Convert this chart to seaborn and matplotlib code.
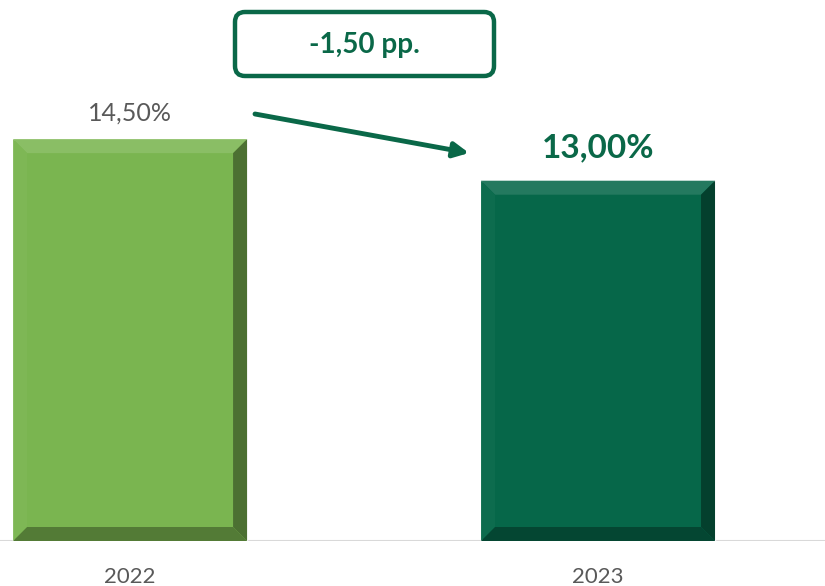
import numpy as np
import pandas as pd
import matplotlib
matplotlib.use("Agg")
from matplotlib import pyplot as plt
from matplotlib.patches import Polygon, FancyBboxPatch
from matplotlib.transforms import IdentityTransform
import seaborn as sns

# %% Data
years = ["2022", "2023"]
rates = [14.50, 13.00]
value_labels = ["14,50%", "13,00%"]
change_label = "-1,50 pp."

bar_colors = ["#7ab550", "#066749"]
dark_green = "#0a6848"
grey_text = "#595959"


def shade(color, factor):
    # factor > 1 lightens, < 1 darkens
    rgb = np.array(matplotlib.colors.to_rgb(color))
    if factor >= 1:
        rgb = rgb + (1 - rgb) * (factor - 1)
    else:
        rgb = rgb * factor
    return np.clip(rgb, 0, 1)


def add_bevel(ax, patch, color, bw_px=14):
    # fake the excel "bevel" look with four trapezoids
    x0, y0 = patch.get_x(), patch.get_y()
    x1, y1 = x0 + patch.get_width(), y0 + patch.get_height()
    inv = ax.transData.inverted()
    p0 = inv.transform(ax.transData.transform((x0, y0)) + [bw_px, bw_px])
    dx, dy = p0[0] - x0, p0[1] - y0
    sides = {
        "top": ([(x0, y1), (x1, y1), (x1 - dx, y1 - dy), (x0 + dx, y1 - dy)], 1.12),
        "left": ([(x0, y0), (x0, y1), (x0 + dx, y1 - dy), (x0 + dx, y0 + dy)], 1.03),
        "right": ([(x1, y0), (x1, y1), (x1 - dx, y1 - dy), (x1 - dx, y0 + dy)], 0.62),
        "bottom": ([(x0, y0), (x1, y0), (x1 - dx, y0 + dy), (x0 + dx, y0 + dy)], 0.68),
    }
    for name, (pts, f) in sides.items():
        ax.add_patch(Polygon(pts, closed=True, facecolor=shade(color, f),
                             edgecolor="none", zorder=3))


# %% Plot
def main():
    sns.set_style("white")
    plt.rcParams["font.family"] = ["Lato", "DejaVu Sans"]

    df = pd.DataFrame({"year": years, "rate": rates})

    fig = plt.figure(figsize=(8.25, 5.86), dpi=100)
    ax = fig.add_axes([0, 45 / 586, 1, 541 / 586])

    sns.barplot(data=df, x="year", y="rate", hue="year", palette=bar_colors,
                width=0.5, legend=False, ax=ax, saturation=1, zorder=2)

    ax.set_xlim(-0.278, 1.485)
    ax.set_ylim(0, 19.52)

    for patch, col in zip(ax.patches[:len(years)], bar_colors):
        add_bevel(ax, patch, col)

    sns.despine(ax=ax, left=True, bottom=True)
    ax.axhline(0, color="#d9d9d9", lw=1.5, zorder=1)
    ax.set_yticks([])
    ax.set_xlabel("")
    ax.set_ylabel("")
    ax.tick_params(axis="x", length=0, pad=19, labelsize=16, labelcolor=grey_text)

    # value labels
    ax.text(0, rates[0] + 0.94, value_labels[0], ha="center", va="center",
            fontsize=18, color=grey_text)
    ax.text(1, rates[1] + 1.2, value_labels[1], ha="center", va="center",
            fontsize=24, fontweight="bold", color=dark_green)

    # change box
    box = FancyBboxPatch((235, 586 - 76), 259, 64,
                         boxstyle="round,pad=0,rounding_size=10",
                         transform=IdentityTransform(), facecolor="white",
                         edgecolor=dark_green, lw=3.2)
    fig.patches.append(box)
    fig.text(364 / 825, 1 - 45 / 586, change_label, ha="center", va="center",
             fontsize=20, fontweight="bold", color=dark_green)

    # arrow
    ax.annotate("", xy=(469, 586 - 153), xycoords="figure pixels",
                xytext=(255, 586 - 114), textcoords="figure pixels",
                arrowprops=dict(arrowstyle="-|>,head_length=0.9,head_width=0.45",
                                color=dark_green, lw=3.5, shrinkA=0, shrinkB=0))

    fig.savefig("out.png", dpi=100)


# %% Run file
if __name__ == '__main__':
    main()
